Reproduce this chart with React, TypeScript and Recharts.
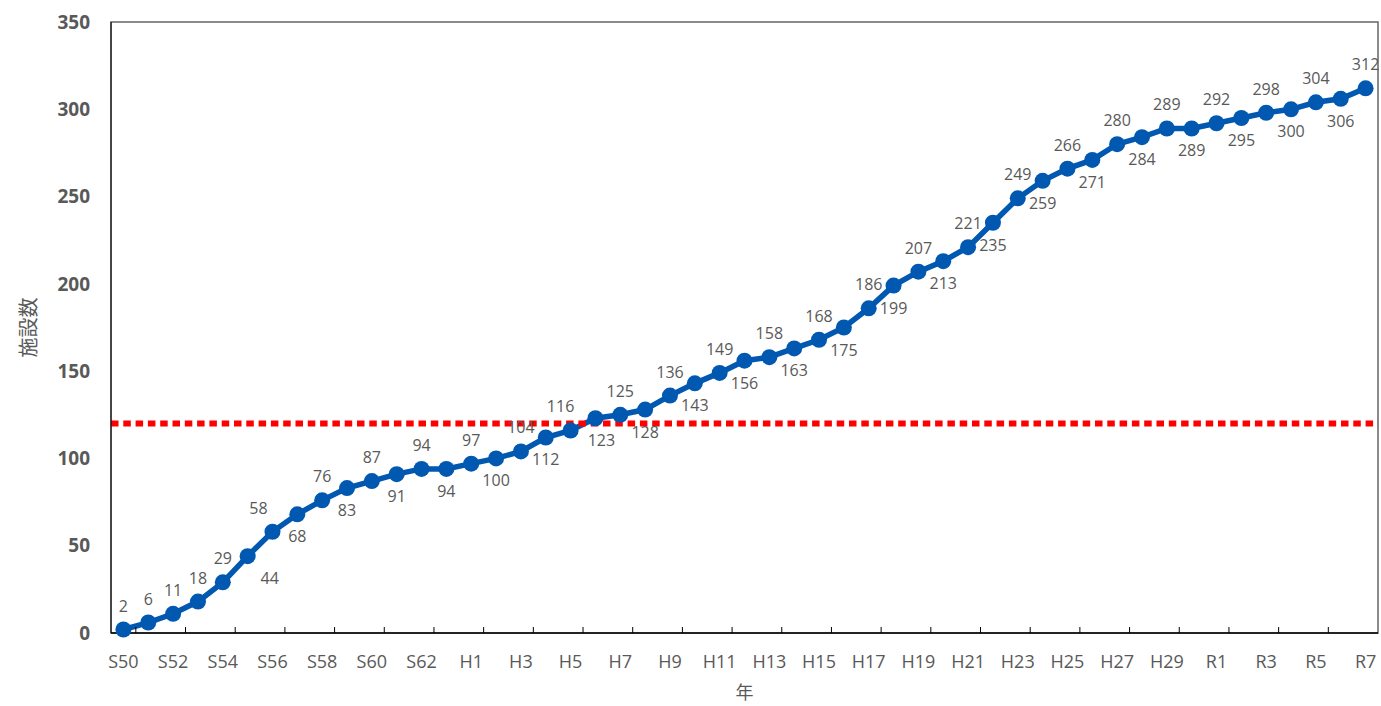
import {
  LabelList,
  Line,
  LineChart,
  ReferenceArea,
  ReferenceLine,
  XAxis,
  YAxis,
} from "recharts";

// 年度（昭和・平成・令和）
const YEARS = [
  "S50", "S51", "S52", "S53", "S54", "S55", "S56", "S57", "S58", "S59",
  "S60", "S61", "S62", "S63",
  "H1", "H2", "H3", "H4", "H5", "H6", "H7", "H8", "H9", "H10",
  "H11", "H12", "H13", "H14", "H15", "H16", "H17", "H18", "H19", "H20",
  "H21", "H22", "H23", "H24", "H25", "H26", "H27", "H28", "H29", "H30",
  "R1", "R2", "R3", "R4", "R5", "R6", "R7",
];

// 施設数（累計）
const FACILITIES = [
  2, 6, 11, 18, 29, 44, 58, 68, 76, 83,
  87, 91, 94, 94,
  97, 100, 104, 112, 116, 123, 125, 128, 136, 143,
  149, 156, 158, 163, 168, 175, 186, 199, 207, 213,
  221, 235, 249, 259, 266, 271, 280, 284, 289, 289,
  292, 295, 298, 300, 304, 306, 312,
];

const Y_TICKS = [0, 50, 100, 150, 200, 250, 300, 350];
const TARGET_LINE = 120;

const data = YEARS.map((year, i) => ({ year, count: FACILITIES[i] }));

const WIDTH = 1381;
const HEIGHT = 706;
const MARGIN = { top: 22, right: 3, left: 0, bottom: 0 };
const Y_AXIS_W = 111;
const X_AXIS_H = 73;
const PLOT_BOTTOM = HEIGHT - MARGIN.bottom - X_AXIS_H;
const BAND = (WIDTH - MARGIN.left - MARGIN.right - Y_AXIS_W) / YEARS.length;

const BLUE = "#0058B0";
const TEXT = "#595959";
const FONT = '"Open Sans", "Noto Sans", sans-serif';
const JP_FONT = '"Noto Sans CJK JP", sans-serif';

// hand-placed label shifts (px) where neighbours would collide
const LABEL_NUDGE: Record<number, number> = { 5: 22, 6: -14, 18: -10, 19: 6 };

function PointLabel(props: any) {
  const { x, y, value, index } = props;
  const below = index >= 5 && index % 2 === 1;
  return (
    <text
      x={x + (LABEL_NUDGE[index] ?? 0)}
      y={below ? y + 28 : y - 18}
      textAnchor="middle"
      fill={TEXT}
      fontSize={16}
      fontFamily={FONT}
    >
      {value}
    </text>
  );
}

// label every other year, tick mark on the band edge after it
function YearTick(props: any) {
  const { x, payload } = props;
  const i = YEARS.indexOf(payload.value);
  if (i % 2 !== 0) return <g />;
  const edge = x + BAND / 2;
  return (
    <g>
      {i < YEARS.length - 1 && (
        <line x1={edge} x2={edge} y1={PLOT_BOTTOM} y2={PLOT_BOTTOM - 6} stroke="#000" strokeWidth={1} />
      )}
      <text x={x} y={PLOT_BOTTOM + 35} textAnchor="middle" fill={TEXT} fontSize={18} fontFamily={FONT}>
        {payload.value}
      </text>
    </g>
  );
}

export default function App() {
  return (
    <div style={{ position: "absolute", left: 0, top: 0, width: WIDTH, height: HEIGHT, background: "#fff" }}>
      <LineChart width={WIDTH} height={HEIGHT} data={data} margin={MARGIN}>
        <ReferenceArea y1={0} y2={350} fill="none" stroke="#666" strokeWidth={1.5} />
        <XAxis
          dataKey="year"
          scale="band"
          interval={0}
          height={X_AXIS_H}
          tick={<YearTick />}
          tickLine={false}
          axisLine={{ stroke: "#000", strokeWidth: 1.5 }}
          label={{
            content: (p: any) => {
              const vb = p.viewBox;
              return (
                <text x={vb.x + vb.width / 2} y={vb.y + X_AXIS_H - 7} textAnchor="middle" fill={TEXT} fontSize={18} fontFamily={JP_FONT}>
                  年
                </text>
              );
            },
          }}
        />
        <YAxis
          width={Y_AXIS_W}
          domain={[0, 350]}
          ticks={Y_TICKS}
          tickLine={false}
          tickSize={0}
          tickMargin={21}
          axisLine={{ stroke: "#000", strokeWidth: 1 }}
          tick={{ fill: TEXT, fontSize: 19, fontWeight: 700, fontFamily: FONT }}
          label={{
            content: (p: any) => {
              const vb = p.viewBox;
              const cx = vb.x + 27;
              const cy = vb.y + vb.height / 2;
              return (
                <text x={cx} y={cy} transform={`rotate(-90 ${cx} ${cy})`} textAnchor="middle" dominantBaseline="central" fill={TEXT} fontSize={20} fontFamily={JP_FONT}>
                  施設数
                </text>
              );
            },
          }}
        />
        <Line
          dataKey="count"
          stroke={BLUE}
          strokeWidth={5.5}
          dot={{ r: 8, fill: BLUE, stroke: BLUE, strokeWidth: 0 }}
          activeDot={false}
          isAnimationActive={false}
        >
          <LabelList dataKey="count" content={<PointLabel />} />
        </Line>
        <ReferenceLine y={TARGET_LINE} stroke="#FF0000" strokeWidth={6} strokeDasharray="7.5 4.8" />
      </LineChart>
    </div>
  );
}
